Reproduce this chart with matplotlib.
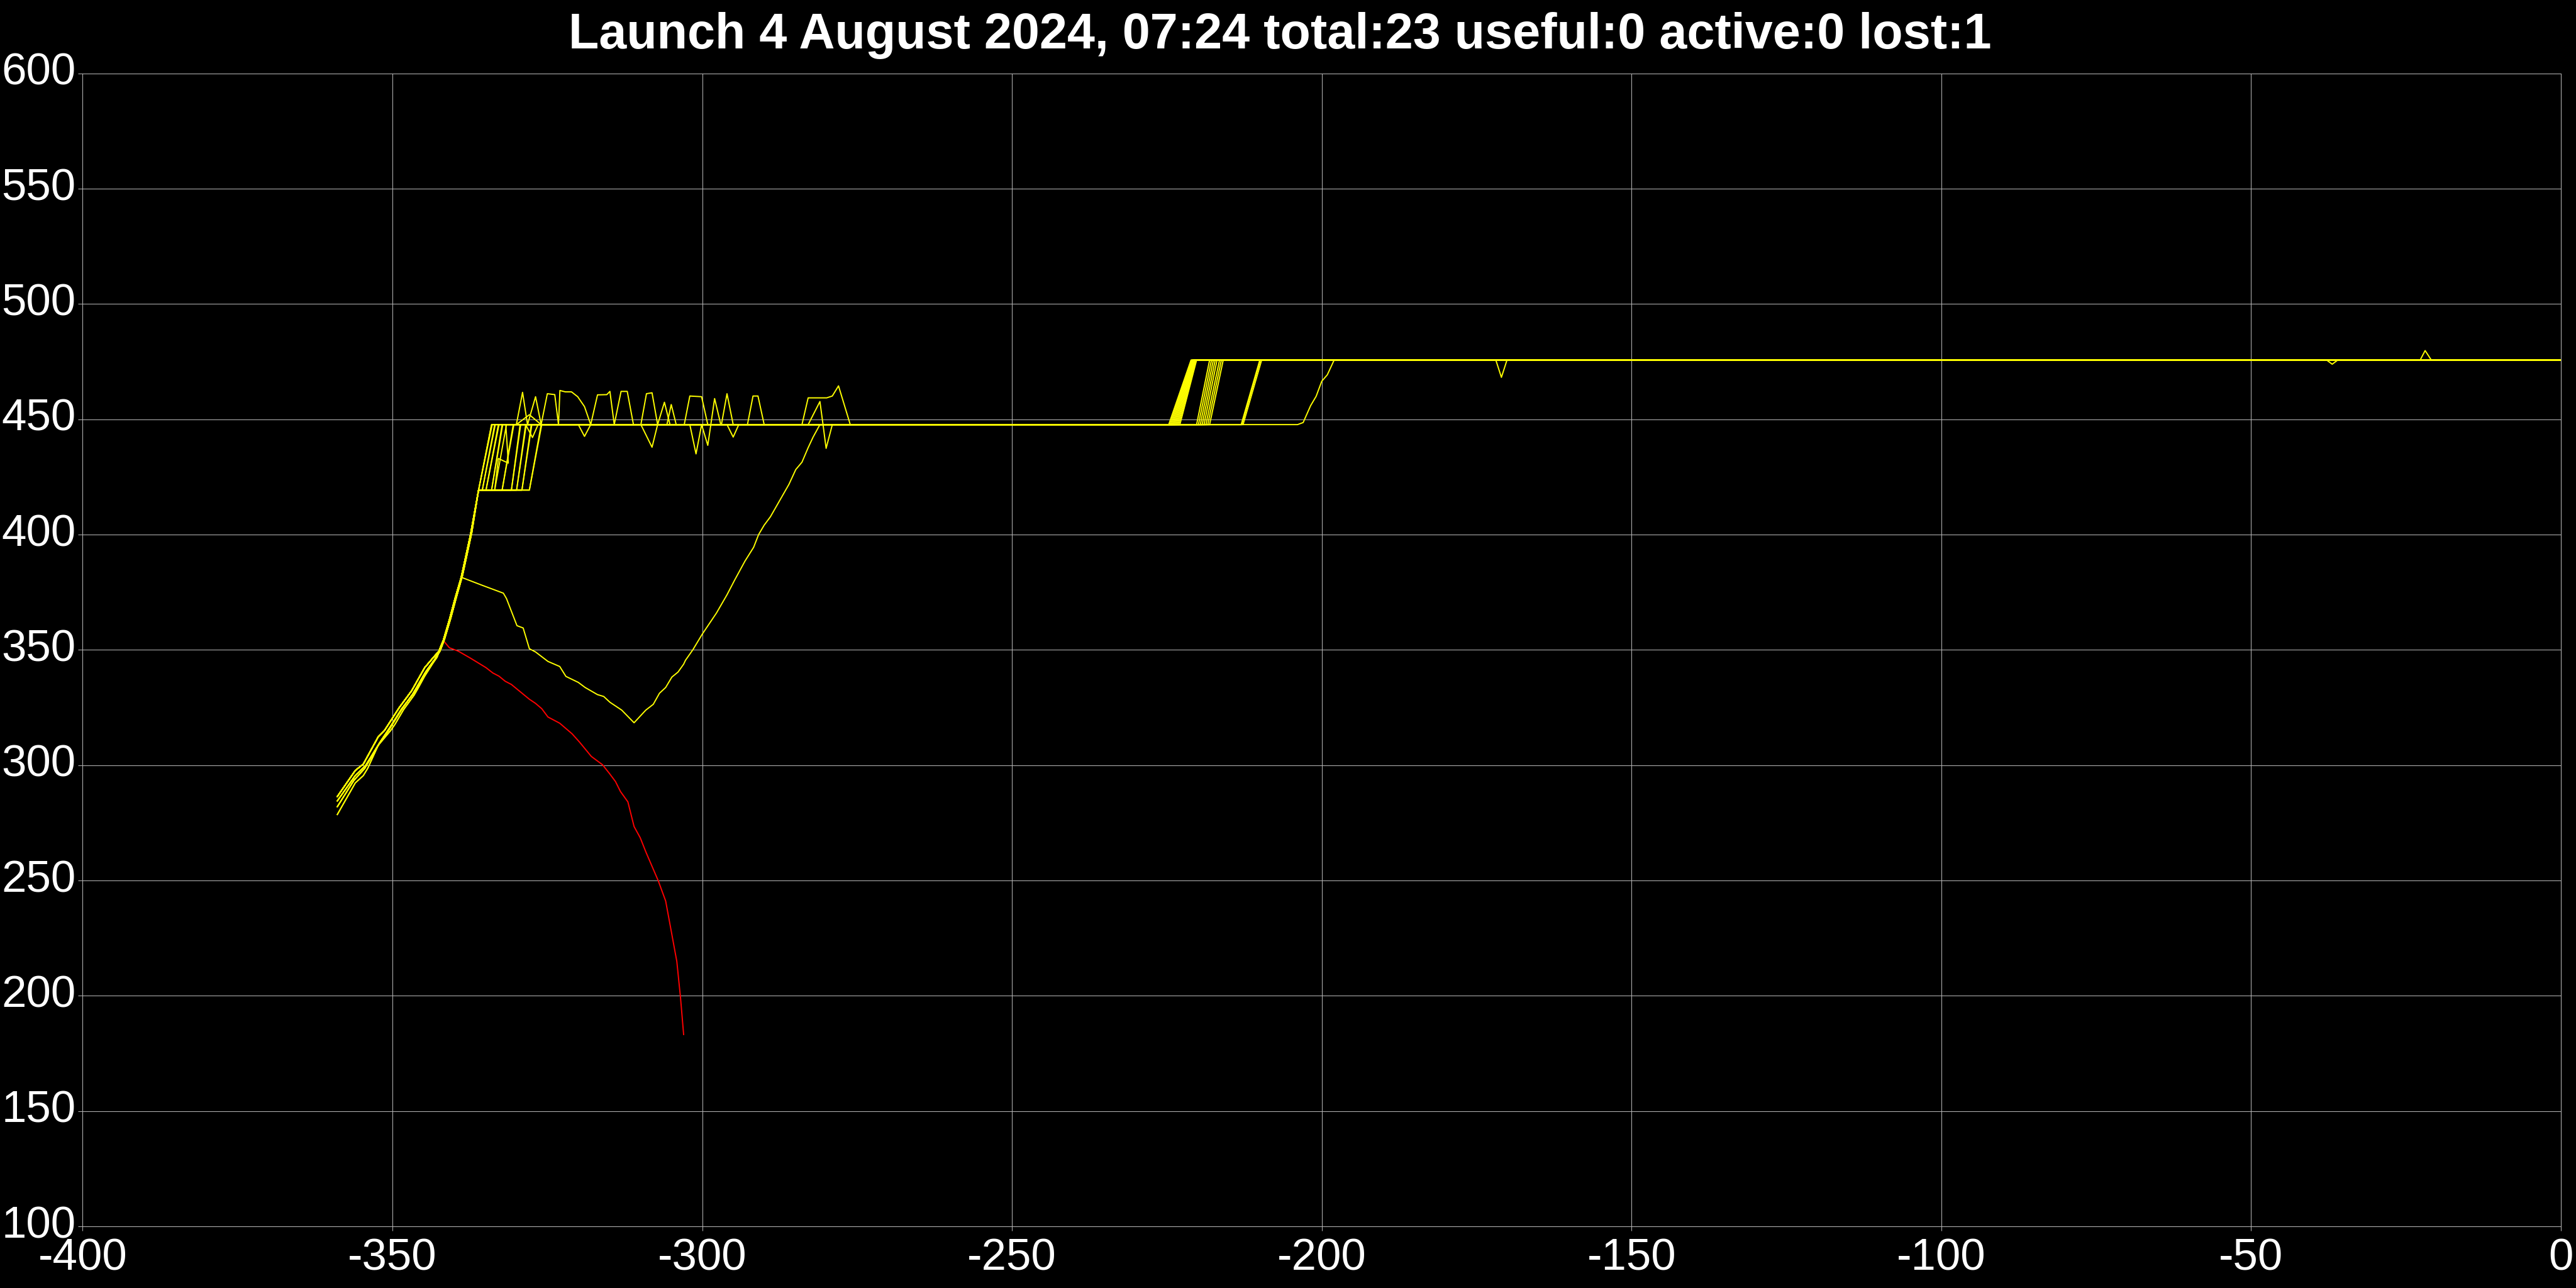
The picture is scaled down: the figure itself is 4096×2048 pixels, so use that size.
import matplotlib
matplotlib.use("Agg")
import matplotlib.pyplot as plt

plt.rcParams["axes.unicode_minus"] = False

TITLE = "Launch 4 August 2024, 07:24 total:23 useful:0 active:0 lost:1"
x_ticks = [-400, -350, -300, -250, -200, -150, -100, -50, 0]
y_ticks = [100, 150, 200, 250, 300, 350, 400, 450, 500, 550, 600]

# altitude levels of the steps (km)
LOW, MID, HIGH = 419.3, 447.7, 475.7

# climb after deployment, a few variants of the bundle
ramp_a_x = [-358.9, -356.0, -354.7, -352.3, -351.3, -348.9, -346.9, -344.8, -343.5, -342.5, -341.8, -340.8, -339.9, -338.9, -337.4, -336.1]
ramp_a_y = [286.4, 297.7, 300.5, 312.3, 315.0, 325.0, 332.3, 342.3, 346.4, 349.5, 354.1, 363.2, 372.3, 381.5, 400.0, 419.3]
ramp_b_x = [-358.9, -356.0, -354.3, -352.0, -350.5, -348.5, -346.5, -344.5, -343.2, -342.3, -341.6, -340.7, -339.8, -338.8, -337.3, -336.1]
ramp_b_y = [284.5, 295.5, 300.0, 310.0, 316.0, 324.5, 331.5, 341.0, 345.8, 349.8, 354.8, 363.8, 372.8, 382.0, 400.5, 419.3]
ramp_c_x = [-358.9, -356.2, -354.5, -352.2, -350.6, -348.6, -346.7, -344.7, -343.3, -342.3, -341.6, -340.6, -339.7, -338.7, -337.2, -336.1]
ramp_c_y = [282.0, 293.5, 298.5, 309.0, 315.2, 323.8, 331.0, 340.2, 345.2, 349.6, 354.6, 363.6, 372.6, 382.2, 400.8, 419.3]
ramp_d_x = [-358.9, -356.0, -354.7, -354.0, -352.3, -350.3, -349.6, -348.2, -346.5, -345.9, -344.8, -343.5, -342.8, -342.1, -341.5, -340.6, -339.8, -338.8, -337.3, -336.1]
ramp_d_y = [278.6, 292.3, 295.5, 298.6, 308.6, 315.0, 317.7, 324.1, 330.4, 333.2, 338.6, 344.1, 346.8, 351.8, 356.0, 364.5, 373.0, 382.0, 400.5, 419.3]

# per satellite: ramp variant, leaving 419, reaching 447, leaving 447, reaching 475
ramp_of = ["A", "B", "A", "C", "A", "D", "B", "A", "C", "B", "A", "D", "B", "A", "C", "A", "B", "A", "C", "B", "A"]
leave419 = [-336.1, -336.1, -335.5, -335.5, -334.9, -334.9, -334.0, -334.0, -333.5, -333.5, -332.3, -332.3, -330.8, -330.8, -329.96, -329.96, -329.1, -329.1, -327.9, -327.9, -336.1]
reach447 = [-334.0, -333.9, -333.5, -333.4, -332.9, -332.8, -332.3, -332.2, -331.7, -331.6, -330.5, -330.4, -329.4, -329.3, -328.5, -328.4, -327.6, -327.5, -326.0, -325.9, -334.0]
rise_start = [-224.7, -220.2, -224.5, -219.9, -224.3, -219.6, -224.1, -219.3, -223.9, -219.0, -223.7, -218.7, -223.5, -218.4, -223.3, -218.1, -223.1, -213.0, -222.9, -212.9, -212.7]
rise_end = [-221.1, -218.1, -221.0, -217.8, -220.9, -217.5, -220.8, -217.2, -220.7, -216.9, -220.6, -216.5, -220.5, -216.2, -220.4, -215.9, -220.3, -210.0, -220.2, -209.9, -209.7]

# one satellite pausing on the way between 419 and 447
kink_x = [-332.9, -331.3]
kink_y = [433.0, 431.0]

# noisy tracks on the 447 plateau
noise1_x = [-330.0, -329.0, -328.2, -326.9, -326.0, -325.0, -323.8, -323.2, -322.97, -322.1, -321.1, -320.1, -319.0, -318.0, -316.9, -315.4, -314.9, -314.2, -313.1, -312.1, -311.1, -309.9, -309.0, -308.1, -307.2, -306.1, -305.2, -302.9, -302.0, -300.1, -299.1, -296.9, -296.0, -295.0, -292.7, -291.8, -291.0, -290.0, -283.9, -282.9, -279.9, -279.0, -278.0, -276.1]
noise1_y = [447.7, 461.7, 447.7, 459.8, 447.7, 461.1, 460.7, 447.7, 462.5, 461.9, 461.9, 459.8, 455.5, 447.7, 460.6, 460.7, 462.1, 447.7, 462.1, 462.1, 447.7, 447.7, 461.1, 461.5, 447.7, 457.4, 447.7, 447.7, 460.1, 459.8, 447.7, 447.7, 461.1, 447.7, 447.7, 460.1, 460.1, 447.7, 447.7, 459.3, 459.3, 460.1, 464.5, 447.7]
noise2_x = [-328.5, -327.4, -326.5, -320.0, -319.0, -318.0, -309.9, -308.1, -307.2, -305.7, -305.0, -304.2, -302.0, -301.0, -300.1, -299.1, -298.0, -297.0, -296.0, -295.0, -294.1]
noise2_y = [447.7, 442.1, 447.7, 447.7, 442.6, 447.7, 447.7, 437.9, 447.7, 447.7, 456.4, 447.7, 447.7, 435.0, 447.7, 438.7, 459.0, 447.7, 447.7, 442.3, 447.7]
noise3_x = [-330.0, -327.9, -326.0, -282.9, -281.0, -280.5, -280.0, -279.0]
noise3_y = [447.7, 452.0, 447.7, 447.7, 457.7, 447.7, 437.4, 447.7]

# small excursions on the 475 plateau
dip171_x = [-171.9, -171.0, -170.1]
dip171_y = [475.7, 468.2, 475.7]
dip37_x = [-37.8, -36.9, -36.0]
dip37_y = [475.7, 473.9, 475.7]
peak22_x = [-22.7, -21.9, -20.9]
peak22_y = [475.7, 479.8, 475.7]

# satellite that sank to 318 km and climbed back
olive_x = [-335.5, -332.1, -331.6, -329.9, -328.9, -327.9, -326.9, -324.9, -323.0, -322.0, -320.0, -318.9, -316.9, -315.9, -314.9, -313.0, -311.0, -309.1, -307.9, -306.9, -305.9, -304.9, -303.9, -303.0, -302.7, -301.5, -300.0, -297.7, -296.0, -294.8, -293.1, -291.7, -290.9, -290.0, -289.0, -286.0, -284.9, -283.9, -282.9, -282.1, -281.0, -203.9, -203.0, -201.8, -200.9, -200.0, -199.1, -198.0, 0.0]
olive_y = [378.0, 374.6, 372.3, 360.5, 359.5, 350.5, 349.1, 345.0, 342.8, 338.5, 335.9, 333.7, 330.6, 329.8, 327.3, 323.9, 318.4, 323.9, 326.4, 331.2, 333.7, 338.2, 340.4, 343.8, 345.5, 350.1, 356.8, 366.0, 373.9, 380.1, 388.5, 394.5, 400.0, 404.1, 407.7, 421.8, 428.2, 431.4, 437.7, 442.3, 447.7, 447.7, 448.6, 455.9, 460.0, 466.5, 469.3, 475.7, 475.7]

# the lost one
red_x = [-341.8, -340.8, -339.4, -337.4, -334.9, -333.8, -332.8, -331.8, -330.8, -327.9, -326.9, -325.9, -324.9, -323.0, -321.0, -319.8, -317.9, -316.1, -315.0, -314.0, -313.2, -312.0, -311.0, -310.0, -309.1, -307.1, -305.9, -305.1, -304.1, -303.5, -303.0]
red_y = [354.1, 350.9, 349.5, 346.4, 342.3, 340.0, 338.6, 336.4, 335.0, 328.6, 326.8, 324.5, 320.9, 318.2, 313.6, 310.0, 303.8, 300.2, 296.5, 292.9, 288.6, 284.1, 273.4, 268.5, 262.4, 249.9, 241.1, 229.5, 214.9, 199.1, 183.2]

ramps = {"A": (ramp_a_x, ramp_a_y), "B": (ramp_b_x, ramp_b_y),
         "C": (ramp_c_x, ramp_c_y), "D": (ramp_d_x, ramp_d_y)}
plateau_extra = {0: (noise1_x, noise1_y), 2: (noise2_x, noise2_y), 4: (noise3_x, noise3_y)}
top_extra = {7: (dip171_x, dip171_y), 9: (dip37_x, dip37_y), 11: (peak22_x, peak22_y)}

GRID = "#b4b4b4"
FONT = "Liberation Sans"
LW = 1.4

fig = plt.figure(figsize=(40.96, 20.48), dpi=100, facecolor="black")
ax = fig.add_axes([0.0321, 0.04785, 0.962, 0.89515], facecolor="black")

# red below the others
ax.plot(ramp_a_x[:11] + red_x[1:], ramp_a_y[:11] + red_y[1:], color="#ff0000", lw=LW, zorder=2)

for i in range(len(ramp_of)):
    rx, ry = ramps[ramp_of[i]]
    xs = list(rx) + [leave419[i]]
    ys = list(ry) + [LOW]
    if i == 8:
        xs += kink_x
        ys += kink_y
    xs.append(reach447[i])
    ys.append(MID)
    if i in plateau_extra:
        xs += plateau_extra[i][0]
        ys += plateau_extra[i][1]
    xs += [rise_start[i], rise_end[i]]
    ys += [MID, HIGH]
    if i in top_extra:
        xs += top_extra[i][0]
        ys += top_extra[i][1]
    xs.append(0.0)
    ys.append(HIGH)
    ax.plot(xs, ys, color="#ffff00", lw=LW, zorder=3)

ax.plot(ramp_a_x[:14] + olive_x, ramp_a_y[:14] + olive_y, color="#ffff00", lw=LW, zorder=3)

ax.set_xlim(-400, 0)
ax.set_ylim(100, 600)
ax.set_xticks(x_ticks)
ax.set_yticks(y_ticks)
ax.grid(True, color=GRID, lw=0.75, zorder=0)
ax.set_axisbelow(True)
for s in ax.spines.values():
    s.set_color(GRID)
    s.set_linewidth(0.75)
ax.tick_params(axis="both", direction="out", length=5, width=0.75, color=GRID,
               labelcolor="white", labelsize=51)
ax.tick_params(axis="x", pad=8)
ax.tick_params(axis="y", pad=3)
for lab in ax.get_xticklabels() + ax.get_yticklabels():
    lab.set_fontfamily(FONT)
for lab in ax.get_yticklabels():
    lab.set_verticalalignment("center")

fig.text(0.4968, 0.9624, TITLE, ha="center", va="baseline", color="white",
         fontsize=57, fontweight="bold", fontfamily=FONT)

fig.savefig("out.png", dpi=100, facecolor="black")
